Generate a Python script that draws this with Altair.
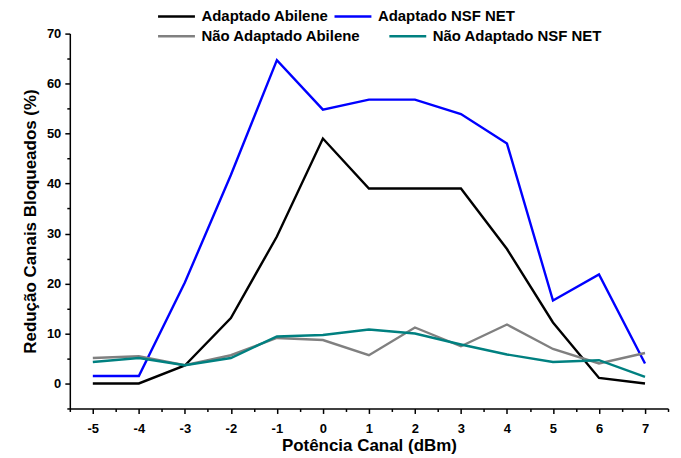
import altair as alt
import pandas as pd

potencia = [-5, -4, -3, -2, -1, 0, 1, 2, 3, 4, 5, 6, 7]
adaptado_abilene = [0, 0, 3.6, 13.1, 29.4, 49.0, 39.0, 39.0, 39.0, 26.9, 12.2, 1.1, 0]
adaptado_nsf = [1.5, 1.5, 20.2, 41.7, 64.7, 54.8, 56.8, 56.8, 53.9, 48.0, 16.6, 21.8, 4.0]
nao_adaptado_abilene = [5.1, 5.45, 3.65, 5.65, 9.1, 8.7, 5.65, 11.2, 7.45, 11.8, 6.9, 4.0, 6.1]
nao_adaptado_nsf = [4.3, 5.1, 3.65, 5.1, 9.4, 9.7, 10.8, 10.0, 7.8, 5.8, 4.3, 4.65, 1.3]

series_names = ["Adaptado Abilene", "Adaptado NSF NET", "Não Adaptado Abilene", "Não Adaptado NSF NET"]
series_colors = ["#000000", "#0000FF", "#808080", "#008080"]
series_values = [adaptado_abilene, adaptado_nsf, nao_adaptado_abilene, nao_adaptado_nsf]

x_ticks = [v / 2 for v in range(-11, 16)]
y_ticks = list(range(-5, 71, 5))

rows = []
for name, vals in zip(series_names, series_values):
    for i, (x, y) in enumerate(zip(potencia, vals)):
        rows.append({"x": x, "y": y, "serie": name, "ord": i})
df = pd.DataFrame(rows)

FONT = "Liberation Sans"

x_enc = alt.X("x:Q",
              scale=alt.Scale(domain=[-5.5, 7.5], nice=False, zero=False),
              axis=alt.Axis(values=x_ticks,
                            labelExpr="datum.value % 1 === 0 ? '' + datum.value : ''",
                            tickSize={"condition": {"test": "datum.value % 1 === 0", "value": 5}, "value": 3},
                            labelOverlap=False, labelFlush=False,
                            title="Potência Canal (dBm)", titlePadding=2,
                            labelPadding=9))
y_enc = alt.Y("y:Q",
              scale=alt.Scale(domain=[-5, 70], nice=False, zero=False),
              axis=alt.Axis(values=y_ticks,
                            labelExpr="datum.value % 10 === 0 ? '' + datum.value : ''",
                            tickSize={"condition": {"test": "datum.value % 10 === 0", "value": 5}, "value": 3},
                            labelOverlap=False, labelFlush=False,
                            title="Redução Canais Bloqueados (%)", titlePadding=7,
                            labelPadding=4))


def legend(ly, cpad):
    return alt.Legend(orient="none", legendX=86, legendY=ly,
                      direction="horizontal", columns=2,
                      columnPadding=cpad, title=None, labelLimit=400,
                      symbolType="M-1,0H6.4", symbolSize=100,
                      symbolStrokeWidth=2.5, labelOffset=31,
                      labelFont=FONT, labelFontSize=15,
                      labelFontWeight="bold", labelColor="#000000")


def layer(names, colors, ly, cpad):
    return alt.Chart(df).transform_filter(
        alt.FieldOneOfPredicate(field="serie", oneOf=names)
    ).mark_line(strokeWidth=2.4).encode(
        x=x_enc,
        y=y_enc,
        color=alt.Color("serie:N",
                        scale=alt.Scale(domain=names, range=colors),
                        legend=legend(ly, cpad)),
        order="ord:Q",
    )


adapt = layer(series_names[:2], series_colors[:2], -25, 0)
nao = layer(series_names[2:], series_colors[2:], -5, 22)

chart = alt.layer(adapt, nao).resolve_scale(
    color="independent"
).properties(
    width=600, height=376,
    autosize=alt.AutoSizeParams(type="none"),
    padding={"left": 62, "top": 25, "right": 5, "bottom": 49},
).configure_view(
    stroke=None
).configure_axis(
    grid=False,
    domainColor="#000000", domainWidth=1.5,
    tickColor="#000000", tickWidth=1.5,
    labelFont=FONT, labelFontSize=13, labelFontWeight="bold", labelColor="#000000",
    titleFont=FONT, titleFontSize=17, titleFontWeight="bold", titleColor="#000000",
)

chart.save("out.html", embed_options={"renderer": "svg", "actions": False})
